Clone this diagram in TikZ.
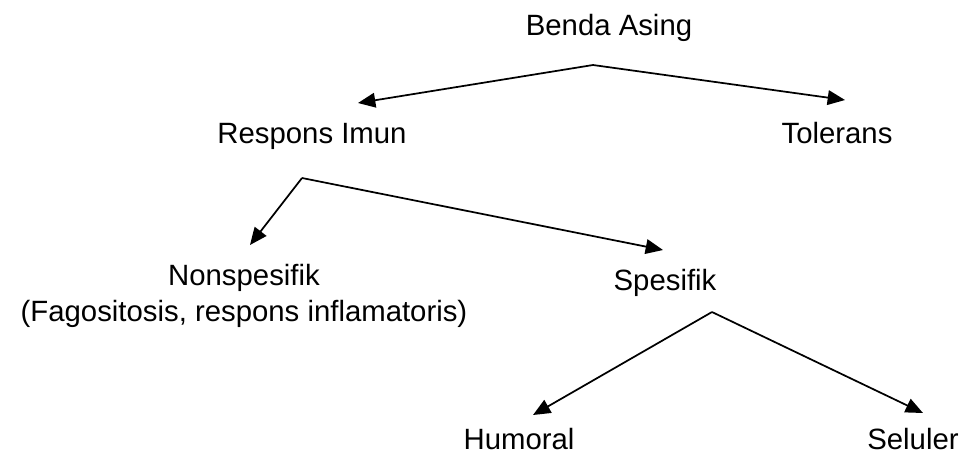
\documentclass[tikz,border=0pt]{standalone}
\usepackage{fontspec}
\setmainfont{Liberation Sans}
\usetikzlibrary{arrows.meta}

\begin{document}
\begin{tikzpicture}[x=0.75pt,y=-0.75pt]
            \tikzstyle{term}=[anchor=base,inner sep=0pt,font=\fontsize{22}{26.3}\selectfont]
            \tikzstyle{branch}=[-{Triangle[length=13pt,width=11pt]},line width=1.3pt]
            \useasboundingbox (0,0) rectangle (962,455);
            \node[term] (benda) at (609,35) {Benda Asing};
            \node[term] (resp) at (312,143) {Respons Imun};
            \node[term] (tol) at (837,143) {Tolerans};
            \node[term,align=center] (nonsp) at (244,321) {Nonspesifik\\(Fagositosis, respons inflamatoris)};
            \node[term] (spes) at (665,290) {Spesifik};
            \node[term] (hum) at (519,449) {Humoral};
            \node[term] (sel) at (913,449) {Seluler};
            % fork points below each parent
            \coordinate (benda fork) at ([shift={(-16,30)}]benda.base);
            \coordinate (resp fork) at ([shift={(-10,35)}]resp.base);
            \coordinate (spes fork) at ([shift={(47,22)}]spes.base);
            \draw[branch] (benda fork) -- ([shift={(46,-40)}]resp.base);
            \draw[branch] (benda fork) -- ([shift={(8,-43)}]tol.base);
            \draw[branch] (resp fork) -- ([shift={(6,-76)}]nonsp.base);
            \draw[branch] (resp fork) -- ([shift={(-2,-40)}]spes.base);
            \draw[branch] (spes fork) -- ([shift={(14,-34)}]hum.base);
            \draw[branch] (spes fork) -- ([shift={(10,-36)}]sel.base);
        \end{tikzpicture}
\end{document}
